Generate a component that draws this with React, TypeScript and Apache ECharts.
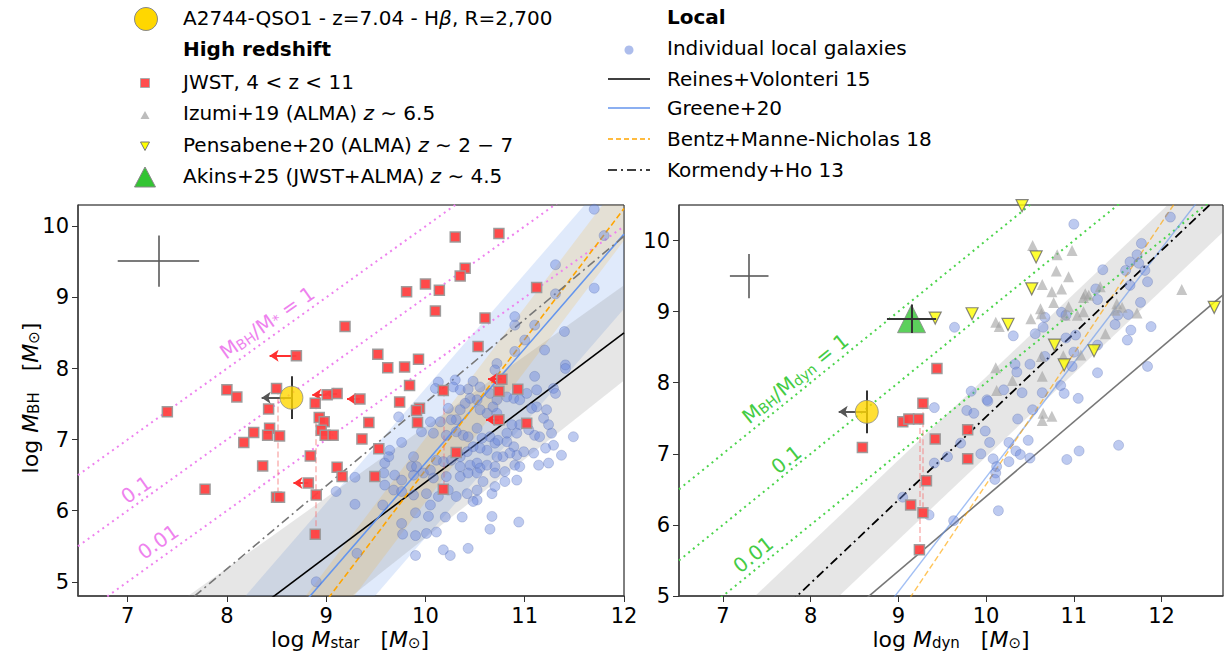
import React, { useEffect, useRef } from 'react';
import * as echarts from 'echarts';

// ---------------- data ----------------
const xTicksStar = [7, 8, 9, 10, 11, 12];
const xTicksDyn = [7, 8, 9, 10, 11, 12];
const yTicks = [5, 6, 7, 8, 9, 10];

// A2744-QSO1
const qsoStar = [8.65, 7.59];
const qsoDyn = [8.64, 7.59];
const qsoYErr = 0.3;
const qsoArrowStar = 0.3;
const qsoArrowDyn = 0.32;

// Akins+25 [x, y, xerr, yerr]
const akinsDyn = [9.15, 8.9, 0.28, 0.2];

// typical uncertainty crosses [x, y, xerr, yerr]
const typicalErrStar = [7.31, 9.51, 0.41, 0.36];
const typicalErrDyn = [7.3, 9.5, 0.22, 0.31];

// JWST 4<z<11, stellar mass panel
const jwstStar = [
  [7.40, 7.39], [7.78, 6.30], [8.00, 7.70], [8.10, 7.60], [8.42, 7.43], [8.50, 7.72],
  [8.43, 7.16], [8.41, 7.06], [8.27, 7.10], [8.17, 6.96], [8.53, 7.05], [8.36, 6.63],
  [8.50, 6.19], [8.53, 6.19], [8.89, 7.51], [8.93, 7.31], [8.98, 7.25], [8.95, 7.13],
  [8.99, 7.06], [9.07, 7.06], [8.84, 6.77], [8.90, 6.22], [8.89, 5.67], [9.11, 6.61],
  [9.16, 6.48], [10.30, 9.85], [10.74, 9.90], [10.40, 9.41], [10.35, 9.30], [10.00, 9.19],
  [9.81, 9.08], [10.14, 9.10], [10.10, 8.81], [11.12, 9.14], [10.60, 8.71], [9.19, 8.59],
  [10.53, 8.31], [9.52, 8.20], [9.93, 8.13], [9.62, 8.01], [9.79, 8.02], [9.84, 7.76],
  [10.18, 7.69], [10.74, 7.68], [10.93, 7.71], [9.74, 7.53], [9.94, 7.44], [9.91, 7.41],
  [9.92, 7.24], [9.43, 7.24], [9.36, 7.01], [9.53, 6.87], [10.31, 6.82], [9.49, 6.48],
  [10.18, 6.30], [11.02, 7.23],
];
// upper limits on stellar mass [x, y, arrow length]
const jwstStarUpper = [
  [8.70, 8.18, 0.27], [9.01, 7.63, 0.15], [9.11, 7.65, 0.12], [9.34, 7.57, 0.13],
  [8.82, 6.39, 0.15], [10.77, 7.85, 0.14], [10.74, 7.28, 0.13],
];
// paired measurements [x, yTop, yBottom]
const jwstStarPairs = [[8.51, 7.72, 6.19], [8.89, 7.51, 5.67], [10.18, 7.69, 6.30]];

// JWST, dynamical mass panel
const jwstDyn = [
  [8.59, 7.09], [9.05, 7.45], [9.12, 7.49], [9.23, 7.49], [9.28, 7.71], [9.14, 6.28],
  [9.28, 6.17], [9.32, 6.62], [9.24, 5.65], [9.42, 7.21], [9.44, 8.20], [9.79, 7.34],
  [9.79, 6.93],
];
const jwstDynPairs = [[9.24, 7.49, 5.65], [9.28, 7.71, 6.17]];

// Izumi+19 (ALMA)
const izumiDyn = [
  [10.53, 9.93], [10.81, 9.80], [10.98, 9.86], [10.80, 9.57], [10.94, 9.49], [10.64, 9.38],
  [10.75, 9.28], [10.86, 9.32], [11.13, 9.25], [11.11, 9.20], [11.17, 9.23], [10.77, 9.13],
  [10.62, 9.04], [10.94, 9.07], [10.63, 8.97], [10.51, 8.90], [10.11, 8.85], [10.15, 8.79],
  [10.90, 8.95], [11.04, 8.95], [11.11, 9.00], [11.49, 9.11], [11.55, 9.06], [11.72, 8.98],
  [11.36, 8.69], [11.08, 8.39], [10.88, 8.38], [10.63, 8.37], [10.11, 8.21], [10.64, 8.09],
  [10.30, 8.03], [10.12, 7.89], [11.30, 9.35], [12.23, 9.31], [11.47, 9.02], [10.65, 7.57],
  [10.75, 7.53], [10.64, 7.47],
];

// Pensabene+20 (ALMA)
const pensabeneDyn = [
  [9.42, 8.91], [9.84, 8.97], [10.25, 8.82], [10.52, 9.32], [10.57, 9.77], [10.78, 8.53],
  [10.89, 8.25], [10.41, 10.49], [11.23, 8.45], [12.60, 9.06],
];

// Individual local galaxies, stellar mass panel
const localStar = [
  [11.70, 10.24], [11.80, 9.87], [11.31, 9.46], [11.70, 9.13], [11.31, 9.05],
  [10.90, 8.73], [10.90, 8.61], [11.10, 8.61], [11.40, 8.52], [11.00, 8.40], [11.20, 8.26],
  [10.90, 8.24], [11.41, 8.05], [11.41, 8.00], [10.72, 8.07], [10.70, 7.98], [11.10, 7.89],
  [11.29, 7.72], [11.12, 7.70], [11.31, 7.65], [10.13, 7.81], [10.30, 7.84], [10.48, 7.82],
  [10.10, 7.72], [10.28, 7.74], [10.35, 7.70], [10.43, 7.71], [10.55, 7.74], [10.65, 7.65],
  [10.72, 7.56], [10.82, 7.60], [10.89, 7.58], [10.95, 7.56], [11.02, 7.65], [11.07, 7.44],
  [11.12, 7.46], [11.22, 7.42], [11.19, 7.30], [11.24, 7.21], [10.95, 7.21], [10.87, 7.21],
  [10.92, 7.09], [10.82, 7.09], [10.72, 7.37], [10.68, 7.46], [10.62, 7.37], [10.55, 7.42],
  [10.52, 7.56], [10.45, 7.58], [10.40, 7.51], [10.35, 7.42], [10.23, 7.44], [10.31, 7.28],
  [10.26, 7.28], [10.15, 7.25], [10.05, 7.25], [9.96, 7.11], [10.08, 7.09], [10.21, 7.06],
  [10.31, 7.11], [10.38, 7.06], [10.43, 7.04], [10.52, 7.16], [10.57, 7.02], [10.65, 7.04],
  [10.70, 6.95], [10.73, 6.99], [10.82, 6.97], [10.89, 6.90], [10.92, 6.78], [10.85, 6.81],
  [10.78, 6.76], [10.72, 6.76], [10.62, 6.85], [10.55, 6.88], [10.48, 6.90], [10.42, 6.83],
  [10.35, 6.76], [10.26, 6.71], [10.18, 6.69], [10.11, 6.71], [10.35, 6.62], [10.45, 6.64],
  [10.52, 6.67], [10.55, 6.60], [10.62, 6.64], [10.70, 6.62], [10.80, 6.55], [10.90, 6.64],
  [10.95, 6.62], [10.99, 6.83], [11.09, 6.81], [11.14, 6.64], [11.24, 6.67], [11.27, 7.09],
  [11.29, 6.92], [11.37, 6.78], [11.49, 7.04], [11.10, 7.06], [11.15, 7.04], [11.04, 7.14],
  [11.21, 6.88], [9.76, 6.96], [9.73, 7.32], [9.64, 6.85], [9.59, 6.67], [9.63, 6.76],
  [9.88, 6.76], [9.86, 6.62], [9.69, 6.50], [9.58, 6.53], [9.76, 6.43], [9.59, 6.36],
  [9.68, 6.29], [9.88, 6.50], [9.91, 6.62], [9.98, 6.53], [10.05, 6.57], [10.08, 6.46],
  [10.21, 6.48], [10.35, 6.48], [10.43, 6.53], [10.52, 6.53], [10.58, 6.41], [10.70, 6.53],
  [10.80, 6.41], [10.92, 6.43], [10.42, 6.24], [10.52, 6.29], [10.67, 6.24], [10.70, 6.34],
  [10.31, 6.20], [10.23, 6.29], [10.13, 6.20], [10.01, 6.24], [9.88, 6.22], [9.76, 6.27],
  [9.29, 6.47], [9.29, 6.09], [9.31, 5.40], [9.10, 6.27], [8.90, 5.00], [9.57, 6.08],
  [9.76, 5.82], [9.77, 5.67], [9.90, 5.65], [10.01, 5.68], [10.11, 5.70], [10.20, 5.91],
  [10.05, 6.08], [10.03, 5.92], [9.90, 5.97], [10.37, 5.91], [10.18, 5.45], [10.25, 5.37],
  [10.43, 5.47], [10.67, 5.92], [10.65, 5.74], [10.94, 5.84], [9.90, 5.37], [10.52, 6.15],
  [10.48, 6.13],
];

// Individual local galaxies, dynamical mass panel
const localDyn = [
  [11.00, 10.23], [12.10, 10.33], [11.77, 9.96], [11.72, 9.80], [11.74, 9.68], [11.64, 9.70],
  [11.59, 9.58], [11.33, 9.59], [11.81, 9.58], [11.84, 9.42], [11.64, 9.37], [11.25, 9.32],
  [11.27, 9.17], [11.76, 9.13], [10.86, 8.99], [10.91, 8.95], [10.67, 8.92], [11.50, 8.95],
  [11.62, 8.96], [11.47, 8.82], [11.88, 8.79], [11.65, 8.74], [11.61, 8.60], [9.64, 8.78],
  [10.65, 8.78], [10.56, 8.69], [10.31, 8.66], [11.02, 8.67], [10.91, 8.63], [11.27, 8.53],
  [11.00, 8.43], [10.67, 8.37], [10.33, 8.26], [10.35, 8.15], [10.50, 8.26], [10.98, 8.23],
  [11.27, 8.14], [11.84, 8.23], [9.83, 7.88], [10.20, 7.90], [10.41, 7.86], [10.64, 7.86],
  [10.85, 7.96], [10.89, 7.85], [11.05, 7.78], [10.01, 7.76], [9.41, 7.65], [9.78, 7.61],
  [9.86, 7.57], [10.02, 7.74], [10.36, 7.49], [10.53, 7.62], [9.99, 7.32], [9.71, 7.15],
  [10.04, 7.16], [10.26, 7.16], [10.48, 7.19], [9.94, 7.00], [9.56, 6.96], [10.08, 6.93],
  [10.34, 7.04], [10.39, 6.99], [10.50, 6.94], [10.26, 6.89], [10.12, 6.82], [10.11, 6.73],
  [10.10, 6.64], [9.41, 6.87], [9.35, 6.14], [9.63, 6.06], [10.14, 6.20], [10.92, 6.92],
  [11.06, 7.04], [11.51, 7.12], [9.05, 6.39],
];

// local scaling relations: [log M_BH at log M = 11, slope]
const RV15 = [7.45, 1.05];
const GREENE20 = [8.28, 1.61];
const BENTZ18 = [8.41, 1.84];
const KH13 = [8.69, 1.17];
const RV15_BAND_UP = [8.175, 0.995];
const RV15_BAND_LO = [6.725, 1.105];
const GREENE20_SCATTER = 1.05;
const BENTZ18_SCATTER = 0.45;
const KH13_SCATTER = 0.56;
const RATIO_OFFSETS = [0, -1, -2]; // M_BH/M = 1, 0.1, 0.01

// ---------------- helpers ----------------
const FONT = '"DejaVu Sans", sans-serif';
const rel = (p: number[], x: number) => p[0] + p[1] * (x - 11);

function relLine(p: number[], xr: number[], gi: number, color: string, type: any, width = 1.5, opacity = 1, z = 3) {
  return {
    type: 'line', xAxisIndex: gi, yAxisIndex: gi, symbol: 'none', silent: true, z,
    data: [[xr[0], rel(p, xr[0])], [xr[1], rel(p, xr[1])]],
    lineStyle: { color, width, type, opacity },
  };
}

function band(gi: number, xr: number[], up: (x: number) => number, lo: (x: number) => number, color: string, z = 1) {
  return {
    type: 'custom', xAxisIndex: gi, yAxisIndex: gi, clip: true, silent: true, z,
    data: [[xr[0], 0]],
    renderItem: (_p: any, api: any) => ({
      type: 'polygon',
      shape: {
        points: [
          api.coord([xr[0], up(xr[0])]), api.coord([xr[1], up(xr[1])]),
          api.coord([xr[1], lo(xr[1])]), api.coord([xr[0], lo(xr[0])]),
        ],
      },
      style: { fill: color },
    }),
  };
}

function segs(gi: number, data: any[], color: string, width: number, opts: any = {}) {
  return {
    type: 'lines', coordinateSystem: 'cartesian2d', xAxisIndex: gi, yAxisIndex: gi,
    silent: true, z: opts.z ?? 5, clip: true,
    symbol: opts.arrow ? ['none', 'arrow'] : 'none', symbolSize: opts.arrow ? 9 : 0,
    lineStyle: { color, width, type: opts.type || 'solid', opacity: 1 },
    data: data.map((c) => ({ coords: c })),
  };
}

function ratioLines(gi: number, xr: number[], color: string) {
  return RATIO_OFFSETS.map((o) => ({
    type: 'line', xAxisIndex: gi, yAxisIndex: gi, symbol: 'none', silent: true, z: 2,
    data: [[xr[0], xr[0] + o], [xr[1], xr[1] + o]],
    lineStyle: { color, width: 2, type: [2, 4] },
  }));
}

function xAxis(gi: number, min: number, max: number, ticks: number[]) {
  return {
    gridIndex: gi, type: 'value', min, max,
    axisLine: { show: true, onZero: false, lineStyle: { color: '#444', width: 1.5 } },
    axisTick: { show: true, length: 6, customValues: ticks, lineStyle: { color: '#333', width: 1 } },
    axisLabel: { customValues: ticks, fontSize: 21, color: '#000', margin: 9, fontFamily: FONT },
    splitLine: { show: false },
  };
}
function yAxis(gi: number, min: number, max: number, ticks: number[]) {
  return {
    gridIndex: gi, type: 'value', min, max,
    axisLine: { show: true, onZero: false, lineStyle: { color: '#444', width: 1.5 } },
    axisTick: { show: true, length: 6, customValues: ticks, lineStyle: { color: '#333', width: 1 } },
    axisLabel: { customValues: ticks, fontSize: 21, color: '#000', margin: 9, fontFamily: FONT },
    splitLine: { show: false },
  };
}

const RICH: any = {
  i: { fontStyle: 'italic', fontSize: 20, fontFamily: FONT, fill: '#000' },
  b: { fontWeight: 'bold', fontSize: 20, fontFamily: FONT, fill: '#000' },
};
const legText = (x: number, y: number, text: string, bold = false) => ({
  type: 'text', x, y, z: 100,
  style: {
    text, fill: '#000', fontSize: 20, fontFamily: FONT, fontWeight: bold ? 'bold' : 'normal',
    align: 'left', verticalAlign: 'middle', rich: RICH,
  },
});

const AX_RICH: any = {
  n: { fontSize: 22, fontFamily: FONT, fill: '#000', lineHeight: 28, verticalAlign: 'bottom' },
  i: { fontSize: 22, fontFamily: FONT, fontStyle: 'italic', fill: '#000', lineHeight: 28, verticalAlign: 'bottom' },
  s: { fontSize: 15, fontFamily: FONT, fill: '#000', lineHeight: 15, verticalAlign: 'bottom', padding: [0, 0, 0, 0] },
};
const axTitle = (x: number, y: number, text: string, rotation = 0) => ({
  type: 'text', x, y, rotation, z: 100,
  style: { text, align: 'center', verticalAlign: 'middle', rich: AX_RICH, fontSize: 22, fontFamily: FONT, fill: '#000' },
});

const lineLabel = (x: number, y: number, text: string, deg: number, color: string) => ({
  type: 'text', x, y, rotation: (deg * Math.PI) / 180, z: 50,
  style: {
    text, align: 'center', verticalAlign: 'middle', fill: color, fontSize: 20, fontFamily: FONT,
    rich: {
      m: { fontSize: 20, fontFamily: FONT, fill: color, lineHeight: 24, verticalAlign: 'bottom' },
      s: { fontSize: 14, fontFamily: FONT, fill: color, lineHeight: 14, verticalAlign: 'bottom' },
    },
  },
});

export default function App() {
  const ref = useRef<HTMLDivElement>(null);
  useEffect(() => {
    if (!ref.current) return;
    const chart = echarts.init(ref.current, undefined, { renderer: 'svg' });
    const xrS = [6.5, 12];
    const xrD = [6.5, 12.7];

    const qErr = (q: number[]) => [[[q[0], q[1] - qsoYErr], [q[0], q[1] + qsoYErr]]];
    const cross = (e: number[]) => [
      [[e[0] - e[2], e[1]], [e[0] + e[2], e[1]]],
      [[e[0], e[1] - e[3]], [e[0], e[1] + e[3]]],
    ];

    const redSquare = {
      symbol: 'rect', symbolSize: 10,
      itemStyle: { color: '#ff4040', borderColor: '#9a9a9a', borderWidth: 1.5, opacity: 0.95 },
    };
    const bluePoint = {
      symbol: 'circle', symbolSize: 10,
      itemStyle: { color: 'rgba(105,135,220,0.55)', borderColor: 'rgba(80,100,170,0.35)', borderWidth: 1 },
    };

    const series: any[] = [
      // ----- left panel -----
      band(0, xrS, (x) => rel(GREENE20, x) + GREENE20_SCATTER, (x) => rel(GREENE20, x) - GREENE20_SCATTER, 'rgba(100,149,237,0.2)'),
      band(0, xrS, (x) => rel(RV15_BAND_UP, x), (x) => rel(RV15_BAND_LO, x), 'rgba(128,128,128,0.2)'),
      band(0, xrS, (x) => rel(BENTZ18, x) + BENTZ18_SCATTER, (x) => rel(BENTZ18, x) - BENTZ18_SCATTER, 'rgba(255,165,0,0.15)'),
      ...ratioLines(0, xrS, '#ee82ee'),
      relLine(RV15, xrS, 0, '#000', 'solid', 1.6),
      relLine(GREENE20, xrS, 0, '#6495ed', 'solid', 1.6),
      relLine(BENTZ18, xrS, 0, '#ffa500', [6, 3], 1.6),
      relLine(KH13, xrS, 0, '#777', [9, 4, 2, 4], 1.6),
      { type: 'scatter', xAxisIndex: 0, yAxisIndex: 0, data: localStar, z: 4, ...bluePoint },
      segs(0, jwstStarPairs.map((p) => [[p[0], p[1]], [p[0], p[2]]]), 'rgba(245,120,120,0.55)', 1.5, { type: 'dashed', z: 4 }),
      segs(0, jwstStarUpper.map((p) => [[p[0], p[1]], [p[0] - p[2], p[1]]]), '#ff3030', 2, { arrow: true, z: 5 }),
      { type: 'scatter', xAxisIndex: 0, yAxisIndex: 0, data: jwstStar.concat(jwstStarUpper.map((p) => [p[0], p[1]])), z: 6, ...redSquare },
      segs(0, cross(typicalErrStar), 'rgba(90,90,90,0.8)', 2, { z: 6 }),
      segs(0, qErr(qsoStar), '#333', 2, { z: 7 }),
      segs(0, [[[qsoStar[0], qsoStar[1]], [qsoStar[0] - qsoArrowStar, qsoStar[1]]]], '#555', 2, { arrow: true, z: 7 }),
      {
        type: 'scatter', xAxisIndex: 0, yAxisIndex: 0, data: [qsoStar], z: 8, symbolSize: 23,
        itemStyle: { color: '#ffd700', borderColor: '#888', borderWidth: 1 },
      },
      // ----- right panel -----
      band(1, xrD, (x) => rel(KH13, x) + KH13_SCATTER, (x) => rel(KH13, x) - KH13_SCATTER, 'rgba(128,128,128,0.2)'),
      ...ratioLines(1, xrD, '#4cd44c'),
      relLine(RV15, xrD, 1, '#777', 'solid', 1.6),
      relLine(GREENE20, xrD, 1, '#6495ed', 'solid', 1.4, 0.6),
      relLine(BENTZ18, xrD, 1, '#ffa500', [6, 3], 1.4, 0.65),
      relLine(KH13, xrD, 1, '#000', [9, 4, 2, 4], 1.8),
      { type: 'scatter', xAxisIndex: 1, yAxisIndex: 1, data: localDyn, z: 4, ...bluePoint },
      {
        type: 'scatter', xAxisIndex: 1, yAxisIndex: 1, data: izumiDyn, z: 4, symbol: 'triangle', symbolSize: 11,
        itemStyle: { color: 'rgba(160,160,160,0.75)' },
      },
      {
        type: 'scatter', xAxisIndex: 1, yAxisIndex: 1, data: pensabeneDyn, z: 5, symbol: 'triangle', symbolRotate: 180, symbolSize: 12,
        itemStyle: { color: '#ffff00', borderColor: '#666', borderWidth: 1.2 },
      },
      segs(1, jwstDynPairs.map((p) => [[p[0], p[1]], [p[0], p[2]]]), 'rgba(245,120,120,0.55)', 1.5, { type: 'dashed', z: 4 }),
      { type: 'scatter', xAxisIndex: 1, yAxisIndex: 1, data: jwstDyn, z: 6, ...redSquare },
      segs(1, cross(typicalErrDyn), 'rgba(90,90,90,0.8)', 2, { z: 6 }),
      segs(1, cross(akinsDyn), '#333', 2, { z: 7 }),
      {
        type: 'scatter', xAxisIndex: 1, yAxisIndex: 1, data: [[akinsDyn[0], akinsDyn[1]]], z: 6, symbol: 'triangle', symbolSize: 28,
        itemStyle: { color: '#33c433', borderColor: '#888', borderWidth: 1 },
      },
      segs(1, qErr(qsoDyn), '#333', 2, { z: 7 }),
      segs(1, [[[qsoDyn[0], qsoDyn[1]], [qsoDyn[0] - qsoArrowDyn, qsoDyn[1]]]], '#555', 2, { arrow: true, z: 7 }),
      {
        type: 'scatter', xAxisIndex: 1, yAxisIndex: 1, data: [qsoDyn], z: 8, symbolSize: 23,
        itemStyle: { color: '#ffd700', borderColor: '#888', borderWidth: 1 },
      },
    ];

    const legendEls: any[] = [
      { type: 'circle', shape: { cx: 146, cy: 19, r: 11.5 }, style: { fill: '#ffd700', stroke: '#888', lineWidth: 1 }, z: 100 },
      legText(183, 18, 'A2744-QSO1 - z=7.04 - H{i|β}, R=2,700'),
      legText(183, 49, 'High redshift', true),
      { type: 'rect', shape: { x: 140.5, y: 78.5, width: 9, height: 9 }, style: { fill: '#ff4d4d', stroke: '#aaa', lineWidth: 1 }, z: 100 },
      legText(183, 82, 'JWST, 4 < z < 11'),
      { type: 'polygon', shape: { points: [[140.5, 119], [149.5, 119], [145, 111]] }, style: { fill: '#bdbdbd' }, z: 100 },
      legText(183, 113, 'Izumi+19 (ALMA) {i|z} ∼ 6.5'),
      { type: 'polygon', shape: { points: [[140.5, 142], [149.5, 142], [145, 150.5]] }, style: { fill: '#ffff00', stroke: '#777', lineWidth: 1 }, z: 100 },
      legText(183, 145, 'Pensabene+20 (ALMA) {i|z} ∼ 2 − 7'),
      { type: 'polygon', shape: { points: [[134.5, 187], [155.5, 187], [145, 167]] }, style: { fill: '#33c433', stroke: '#888', lineWidth: 1 }, z: 100 },
      legText(183, 176, 'Akins+25 (JWST+ALMA) {i|z} ∼ 4.5'),

      legText(667, 17, 'Local', true),
      { type: 'circle', shape: { cx: 629, cy: 50, r: 4.5 }, style: { fill: 'rgba(105,135,220,0.55)' }, z: 100 },
      legText(667, 48, 'Individual local galaxies'),
      { type: 'line', shape: { x1: 608, y1: 79, x2: 650, y2: 79 }, style: { stroke: '#000', lineWidth: 1.6 }, z: 100 },
      legText(667, 79, 'Reines+Volonteri 15'),
      { type: 'line', shape: { x1: 608, y1: 108, x2: 650, y2: 108 }, style: { stroke: '#6495ed', lineWidth: 1.6 }, z: 100 },
      legText(667, 108, 'Greene+20'),
      { type: 'line', shape: { x1: 608, y1: 139, x2: 650, y2: 139 }, style: { stroke: '#ffa500', lineWidth: 1.6, lineDash: [5, 3] }, z: 100 },
      legText(667, 139, 'Bentz+Manne-Nicholas 18'),
      { type: 'line', shape: { x1: 608, y1: 170, x2: 650, y2: 170 }, style: { stroke: '#000', lineWidth: 1.6, lineDash: [9, 4, 2, 4] }, z: 100 },
      legText(667, 170, 'Kormendy+Ho 13'),

      axTitle(350, 636, '{n|log }{i|M}{s|star}{n|   [}{i|M}{s|⊙}{n|]}'),
      axTitle(951, 636, '{n|log }{i|M}{s|dyn}{n|   [}{i|M}{s|⊙}{n|]}'),
      axTitle(27, 398, '{n|log }{i|M}{s|BH}{n|   [}{i|M}{s|⊙}{n|]}', Math.PI / 2),

      lineLabel(266, 321, '{m|M}{s|BH}{m|/M}{s|*}{m| = 1}', 35, '#ee82ee'),
      lineLabel(135, 488, '{m|0.1}', 35, '#ee82ee'),
      lineLabel(157, 540, '{m|0.01}', 35, '#ee82ee'),
      lineLabel(794, 377, '{m|M}{s|BH}{m|/M}{s|dyn}{m| = 1}', 39, '#44cc44'),
      lineLabel(785, 458, '{m|0.1}', 39, '#44cc44'),
      lineLabel(752, 553, '{m|0.01}', 39, '#44cc44'),
    ];

    chart.setOption({
      animation: false,
      backgroundColor: '#fff',
      textStyle: { fontFamily: FONT },
      grid: [
        { left: 78, top: 205, width: 546, height: 391, show: true, borderColor: '#000', borderWidth: 1, backgroundColor: 'transparent' },
        { left: 679, top: 205, width: 544, height: 391, show: true, borderColor: '#000', borderWidth: 1, backgroundColor: 'transparent' },
      ],
      xAxis: [xAxis(0, 6.5, 12, xTicksStar), xAxis(1, 6.5, 12.7, xTicksDyn)],
      yAxis: [yAxis(0, 4.8, 10.3, yTicks), yAxis(1, 5, 10.5, yTicks)],
      graphic: { elements: legendEls },
      series,
    });
    return () => chart.dispose();
  }, []);
  return <div ref={ref} style={{ position: 'fixed', left: 0, top: 0, width: 1225, height: 660, background: '#fff' }} />;
}
